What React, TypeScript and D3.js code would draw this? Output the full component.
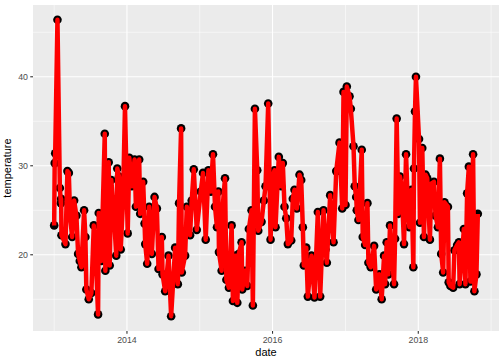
import React from 'react';
import * as d3 from 'd3';

const years = [
  2013.000, 2013.007, 2013.014, 2013.045, 2013.078, 2013.092, 2013.096, 2013.100, 2013.155, 2013.182,
  2013.201, 2013.219, 2013.247, 2013.274, 2013.305, 2013.329, 2013.352, 2013.374, 2013.411, 2013.429,
  2013.442, 2013.475, 2013.511, 2013.544, 2013.568, 2013.603, 2013.612, 2013.648, 2013.695, 2013.703,
  2013.749, 2013.763, 2013.785, 2013.822, 2013.853, 2013.867, 2013.890, 2013.914, 2013.945, 2013.973,
  2014.010, 2014.032, 2014.068, 2014.105, 2014.123, 2014.168, 2014.182, 2014.223, 2014.242, 2014.251,
  2014.278, 2014.305, 2014.342, 2014.379, 2014.411, 2014.434, 2014.479, 2014.489, 2014.525, 2014.571,
  2014.607, 2014.662, 2014.699, 2014.716, 2014.744, 2014.753, 2014.799, 2014.822, 2014.867, 2014.890,
  2014.918, 2014.959, 2015.014, 2015.045, 2015.082, 2015.119, 2015.151, 2015.182, 2015.210, 2015.237,
  2015.256, 2015.264, 2015.301, 2015.315, 2015.347, 2015.366, 2015.401, 2015.438, 2015.456, 2015.493,
  2015.516, 2015.538, 2015.575, 2015.584, 2015.621, 2015.653, 2015.675, 2015.712, 2015.730, 2015.758,
  2015.790, 2015.804, 2015.849, 2015.881, 2015.904, 2015.941, 2015.973, 2016.004, 2016.027, 2016.041,
  2016.086, 2016.119, 2016.141, 2016.164, 2016.188, 2016.210, 2016.256, 2016.278, 2016.301, 2016.333,
  2016.370, 2016.393, 2016.415, 2016.429, 2016.462, 2016.484, 2016.534, 2016.575, 2016.621, 2016.653,
  2016.699, 2016.726, 2016.744, 2016.790, 2016.836, 2016.873, 2016.918, 2016.955, 2016.973, 2017.000,
  2017.018, 2017.055, 2017.073, 2017.110, 2017.127, 2017.147, 2017.155, 2017.178, 2017.223, 2017.237,
  2017.270, 2017.301, 2017.315, 2017.347, 2017.393, 2017.421, 2017.466, 2017.497, 2017.530, 2017.544,
  2017.566, 2017.589, 2017.612, 2017.667, 2017.681, 2017.703, 2017.726, 2017.749, 2017.771, 2017.804,
  2017.832, 2017.849, 2017.877, 2017.908, 2017.932, 2017.941, 2017.955, 2017.968, 2018.010, 2018.023,
  2018.055, 2018.078, 2018.100, 2018.123, 2018.160, 2018.178, 2018.215, 2018.237, 2018.270, 2018.297,
  2018.315, 2018.342, 2018.360, 2018.407, 2018.418, 2018.442, 2018.479, 2018.497, 2018.534, 2018.558,
  2018.568, 2018.603, 2018.626, 2018.648, 2018.671, 2018.695, 2018.716, 2018.753, 2018.771, 2018.799,
  2018.818,
];

const temperature = [
  23.3, 30.3, 31.4, 46.4, 27.5, 25.8, 26.3, 22.2, 21.2, 29.4,
  29.2, 24.2, 22.0, 26.1, 24.4, 20.1, 19.3, 18.6, 25.0, 22.0,
  16.1, 15.0, 15.7, 23.3, 20.5, 13.3, 24.7, 19.3, 33.6, 18.2,
  30.4, 18.8, 28.4, 24.2, 19.9, 29.7, 28.8, 20.6, 25.8, 36.7,
  22.4, 30.9, 27.7, 30.7, 25.4, 30.7, 24.6, 28.2, 23.5, 21.2,
  19.0, 25.4, 20.1, 26.5, 25.2, 18.4, 22.0, 17.8, 15.9, 19.9,
  13.1, 20.8, 16.7, 25.8, 34.2, 18.0, 19.9, 25.4, 22.2, 26.1,
  29.6, 22.8, 27.1, 29.2, 21.7, 29.5, 27.1, 31.3, 25.4, 23.1,
  27.1, 20.3, 18.2, 25.4, 28.6, 17.2, 16.3, 23.3, 14.8, 19.9,
  14.6, 20.1, 21.4, 16.1, 18.2, 16.5, 22.9, 25.0, 14.3, 36.4,
  29.5, 22.7, 23.7, 26.1, 27.7, 37.0, 21.7, 28.8, 29.5, 23.1,
  31.0, 27.7, 30.3, 25.4, 24.1, 21.2, 21.6, 26.3, 27.3, 25.2,
  29.0, 28.4, 23.1, 18.8, 20.8, 15.3, 19.9, 15.2, 24.8, 15.3,
  25.0, 20.6, 19.1, 26.7, 21.4, 29.4, 32.6, 25.2, 38.3, 25.6,
  38.9, 37.8, 36.4, 32.2, 27.7, 26.5, 25.0, 23.9, 31.8, 22.0,
  21.1, 25.8, 19.1, 18.6, 21.0, 16.1, 17.8, 15.0, 19.9, 16.7,
  21.4, 17.8, 23.3, 16.7, 21.8, 35.3, 24.6, 28.8, 27.7, 21.2,
  31.3, 27.3, 23.1, 27.3, 18.6, 29.7, 36.1, 40.0, 33.0, 23.6,
  32.0, 22.0, 29.0, 28.6, 21.7, 28.0, 28.2, 24.4, 23.1, 30.8,
  20.1, 18.0, 25.9, 25.4, 16.9, 16.5, 16.3, 20.5, 21.1, 21.4,
  16.7, 20.1, 22.9, 16.7, 26.9, 29.9, 17.0, 31.3, 15.9, 17.8,
  24.6,
];

const yMajor = [20, 30, 40];
const yMinor = [15, 25, 35, 45];
const xMajor = [2014, 2016, 2018];
const xMinor = [2013, 2015, 2017, 2019];

// decimal year -> Date
const toDate = (y: number) => {
  const yr = Math.floor(y);
  const start = new Date(yr, 0, 1).getTime();
  const end = new Date(yr + 1, 0, 1).getTime();
  return new Date(start + (y - yr) * (end - start));
};

const W = 504;
const H = 360;
const margin = { top: 5, right: 5, bottom: 29, left: 33 };
const FONT = '"Liberation Sans", Arial, sans-serif';

const App: React.FC = () => {
  const pw = W - margin.left - margin.right;
  const ph = H - margin.top - margin.bottom;

  const data = years.map((y, i) => ({ date: toDate(y), t: temperature[i] }));

  // ggplot style 5% expansion
  const [d0, d1] = d3.extent(data, d => d.date.getTime()) as [number, number];
  const dx = (d1 - d0) * 0.05;
  const x = d3.scaleTime().domain([new Date(d0 - dx), new Date(d1 + dx)]).range([0, pw]);

  const [t0, t1] = d3.extent(data, d => d.t) as [number, number];
  const dy = (t1 - t0) * 0.05;
  const y = d3.scaleLinear().domain([t0 - dy, t1 + dy]).range([ph, 0]);

  const line = d3.line<{ date: Date; t: number }>()
    .x(d => x(d.date))
    .y(d => y(d.t));

  return (
    <svg width={W} height={H} style={{ position: 'absolute', left: 0, top: 0, background: '#fff' }}>
      <g transform={`translate(${margin.left},${margin.top})`}>
        <rect width={pw} height={ph} fill="#EBEBEB" />
        {yMinor.map(v => (
          <line key={`ym${v}`} x1={0} x2={pw} y1={y(v)} y2={y(v)} stroke="#fff" strokeWidth={0.55} />
        ))}
        {xMinor.map(v => (
          <line key={`xm${v}`} x1={x(toDate(v))} x2={x(toDate(v))} y1={0} y2={ph} stroke="#fff" strokeWidth={0.55} />
        ))}
        {yMajor.map(v => (
          <line key={`yM${v}`} x1={0} x2={pw} y1={y(v)} y2={y(v)} stroke="#fff" strokeWidth={1.1} />
        ))}
        {xMajor.map(v => (
          <line key={`xM${v}`} x1={x(toDate(v))} x2={x(toDate(v))} y1={0} y2={ph} stroke="#fff" strokeWidth={1.1} />
        ))}

        {data.map((d, i) => (
          <circle key={i} cx={x(d.date)} cy={y(d.t)} r={4.3} fill="#000" />
        ))}
        <path d={line(data) || ''} fill="none" stroke="#FF0000" strokeWidth={4.5} strokeLinejoin="round" />

        {/* y axis */}
        {yMajor.map(v => (
          <g key={`yt${v}`}>
            <line x1={-2.75} x2={0} y1={y(v)} y2={y(v)} stroke="#333" strokeWidth={1.1} />
            <text x={-5} y={y(v)} dy="0.35em" textAnchor="end" fontSize={8.8} fill="#4D4D4D" fontFamily={FONT}>{v}</text>
          </g>
        ))}
        {/* x axis */}
        {xMajor.map(v => (
          <g key={`xt${v}`}>
            <line x1={x(toDate(v))} x2={x(toDate(v))} y1={ph} y2={ph + 2.75} stroke="#333" strokeWidth={1.1} />
            <text x={x(toDate(v))} y={ph + 11.5} textAnchor="middle" fontSize={8.8} fill="#4D4D4D" fontFamily={FONT}>{v}</text>
          </g>
        ))}
        <text x={pw / 2} y={ph + 25} textAnchor="middle" fontSize={11} fill="#000" fontFamily={FONT}>date</text>
        <text transform={`translate(${-22},${ph / 2}) rotate(-90)`} textAnchor="middle" fontSize={11} fill="#000" fontFamily={FONT}>temperature</text>
      </g>
    </svg>
  );
};

export default App;
